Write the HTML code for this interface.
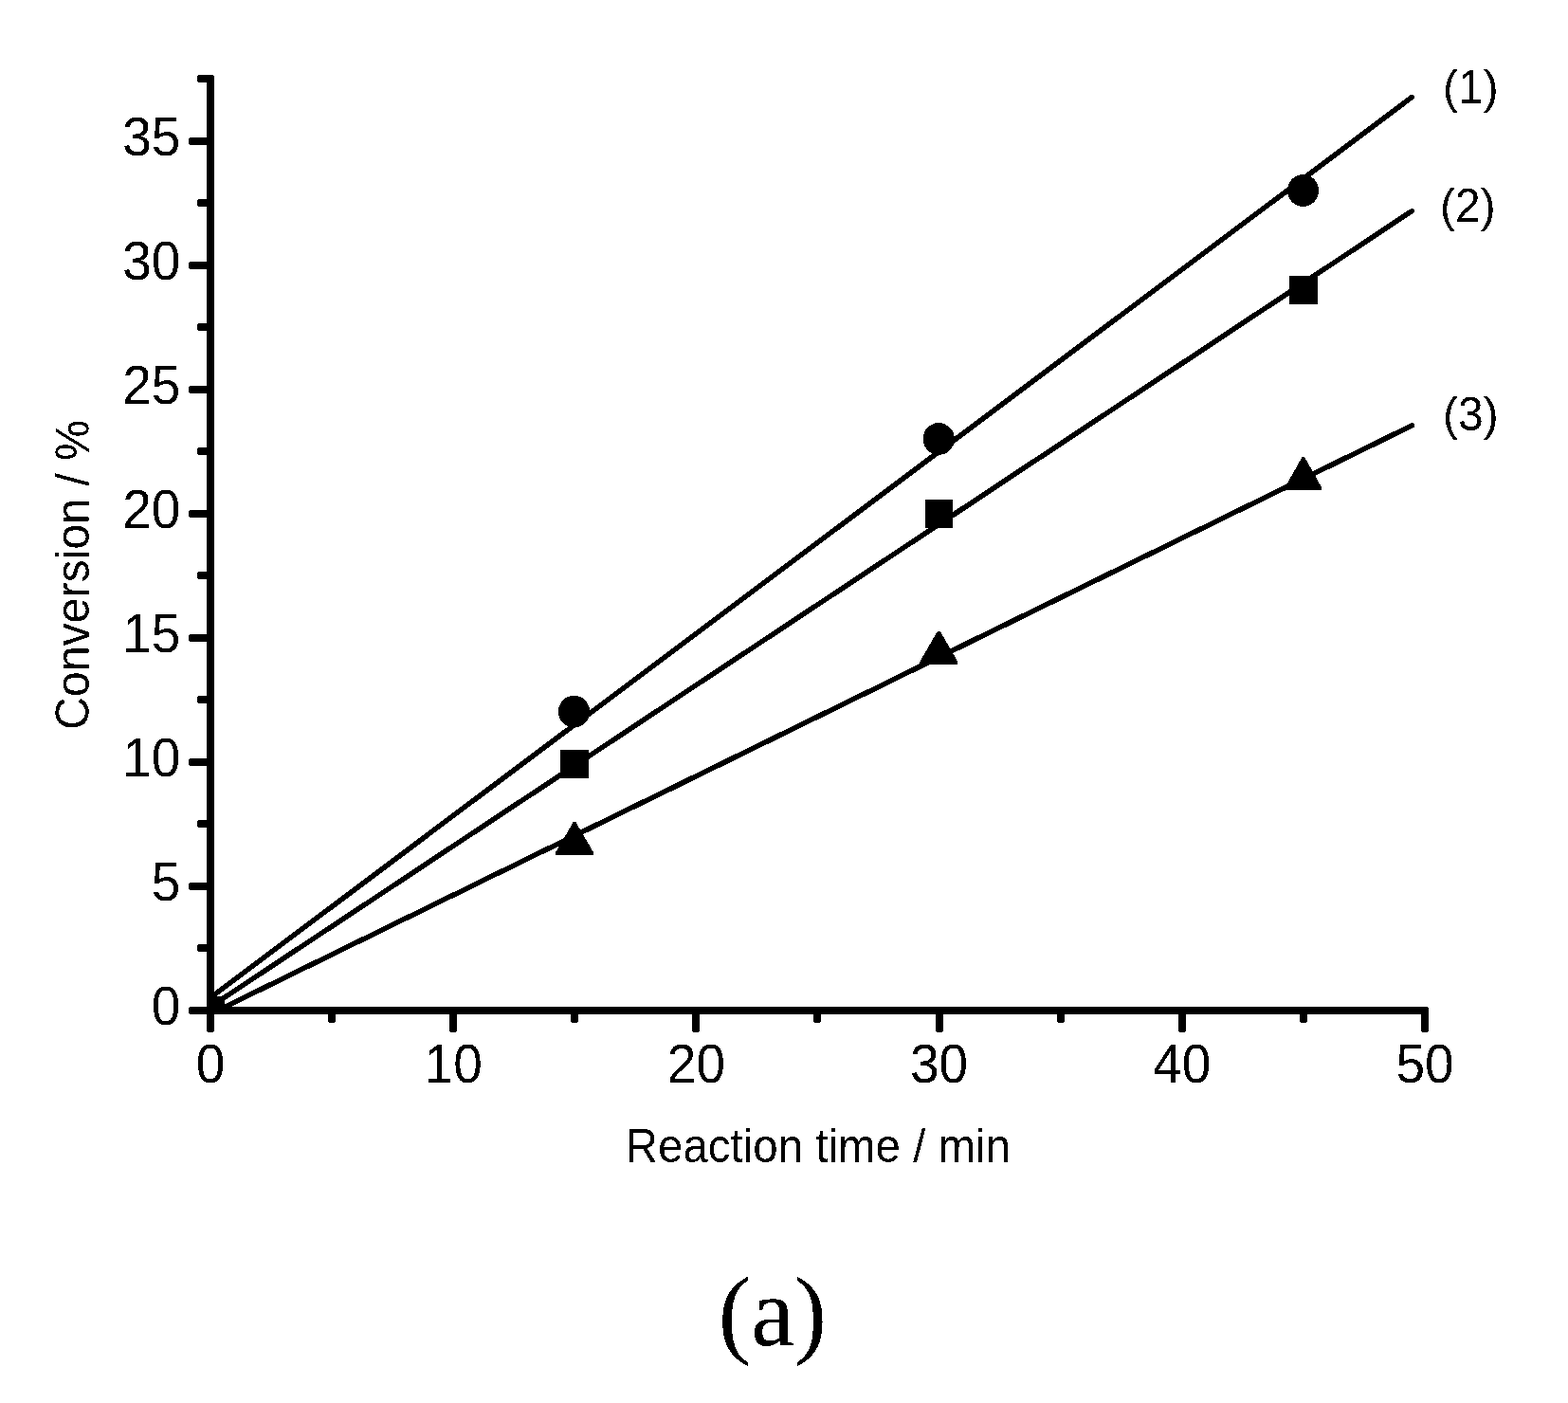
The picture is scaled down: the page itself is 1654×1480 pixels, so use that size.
<!DOCTYPE html>
<html lang="en"><head><meta charset="utf-8"><title>Conversion vs reaction time (a)</title>
<style>
html,body{margin:0;padding:0;background:#fff;}
body{width:1654px;height:1480px;overflow:hidden;}
svg{display:block;}
.sans{font-family:"Liberation Sans",Arial,Helvetica,sans-serif;fill:#000;}
.serif{font-family:"Liberation Serif","Times New Roman",serif;fill:#000;}
</style></head><body>
<svg width="1654" height="1480" viewBox="0 0 1654 1480" role="img" aria-label="Conversion versus reaction time">
<rect x="0" y="0" width="1654" height="1480" fill="#fff"/>
<defs><filter id="bw" filterUnits="userSpaceOnUse" x="0" y="0" width="1654" height="1480" color-interpolation-filters="sRGB"><feComponentTransfer><feFuncA type="discrete" tableValues="0 1"/></feComponentTransfer></filter></defs>
<g filter="url(#bw)">
<clipPath id="plot"><rect x="222" y="0" width="1300" height="1066"/></clipPath>
<g stroke="#000" stroke-width="5.5" stroke-linecap="round" fill="none" clip-path="url(#plot)">
<line x1="222.00" y1="1052.32" x2="1489.42" y2="102.40"/>
<line x1="222.00" y1="1062.07" x2="1489.42" y2="222.58"/>
<line x1="222.00" y1="1069.67" x2="1489.42" y2="448.83"/>
</g>
<g fill="#000">
<rect x="218" y="79" width="8" height="1010" rx="2.5"/>
<rect x="199" y="1062" width="1308" height="8" rx="2.5"/>
<rect x="199" y="1062" width="23" height="8" rx="2.5"/>
<rect x="199" y="931" width="23" height="8" rx="2.5"/>
<rect x="199" y="800" width="23" height="8" rx="2.5"/>
<rect x="199" y="669" width="23" height="8" rx="2.5"/>
<rect x="199" y="538" width="23" height="8" rx="2.5"/>
<rect x="199" y="407" width="23" height="8" rx="2.5"/>
<rect x="199" y="276" width="23" height="8" rx="2.5"/>
<rect x="199" y="145" width="23" height="8" rx="2.5"/>
<rect x="208" y="996" width="14" height="8" rx="2.5"/>
<rect x="208" y="865" width="14" height="8" rx="2.5"/>
<rect x="208" y="734" width="14" height="8" rx="2.5"/>
<rect x="208" y="603" width="14" height="8" rx="2.5"/>
<rect x="208" y="472" width="14" height="8" rx="2.5"/>
<rect x="208" y="341" width="14" height="8" rx="2.5"/>
<rect x="208" y="210" width="14" height="8" rx="2.5"/>
<rect x="208" y="79" width="14" height="8" rx="2.5"/>
<rect x="218" y="1066" width="8" height="23" rx="2.5"/>
<rect x="474" y="1066" width="8" height="23" rx="2.5"/>
<rect x="730" y="1066" width="8" height="23" rx="2.5"/>
<rect x="987" y="1066" width="8" height="23" rx="2.5"/>
<rect x="1243" y="1066" width="8" height="23" rx="2.5"/>
<rect x="1499" y="1066" width="8" height="23" rx="2.5"/>
<rect x="346" y="1066" width="8" height="13" rx="2.5"/>
<rect x="602" y="1066" width="8" height="13" rx="2.5"/>
<rect x="858" y="1066" width="8" height="13" rx="2.5"/>
<rect x="1115" y="1066" width="8" height="13" rx="2.5"/>
<rect x="1371" y="1066" width="8" height="13" rx="2.5"/>
</g>
<g fill="#000">
<rect x="222" y="1051" width="15" height="15"/>
<ellipse cx="605.5" cy="750.7" rx="16.6" ry="16.9"/>
<ellipse cx="990.2" cy="463.0" rx="16.6" ry="16.9"/>
<ellipse cx="1374.5" cy="201.0" rx="16.6" ry="16.9"/>
<rect x="591" y="791" width="30" height="30"/>
<rect x="976" y="527" width="29" height="30"/>
<rect x="1360" y="291" width="30" height="30"/>
<polygon points="604.8,866.9 607.3,866.9 626.0,899.2 626.0,901.9 586.0,901.9 586.0,899.2"/>
<polygon points="989.0,665.8 991.6,665.8 1010.3,698.1 1010.3,700.8 970.3,700.8 970.3,698.1"/>
<polygon points="1373.5,481.9 1376.1,481.9 1394.1,514.2 1394.1,516.9 1355.5,516.9 1355.5,514.2"/>
</g>
<text class="sans" font-size="55" text-anchor="end" transform="translate(190.30 1080.60) scale(1.0000 1.0550)">0</text>
<text class="sans" font-size="55" text-anchor="end" transform="translate(190.30 949.60) scale(1.0000 1.0550)">5</text>
<text class="sans" font-size="55" text-anchor="end" transform="translate(190.30 818.60) scale(1.0000 1.0550)">10</text>
<text class="sans" font-size="55" text-anchor="end" transform="translate(190.30 687.60) scale(1.0000 1.0550)">15</text>
<text class="sans" font-size="55" text-anchor="end" transform="translate(190.30 556.60) scale(1.0000 1.0550)">20</text>
<text class="sans" font-size="55" text-anchor="end" transform="translate(190.30 425.60) scale(1.0000 1.0550)">25</text>
<text class="sans" font-size="55" text-anchor="end" transform="translate(190.30 294.60) scale(1.0000 1.0550)">30</text>
<text class="sans" font-size="55" text-anchor="end" transform="translate(190.30 163.60) scale(1.0000 1.0550)">35</text>
<text class="sans" font-size="55" text-anchor="middle" transform="translate(222.00 1142.40) scale(1.0000 1.0550)">0</text>
<text class="sans" font-size="55" text-anchor="middle" transform="translate(478.20 1142.40) scale(1.0000 1.0550)">10</text>
<text class="sans" font-size="55" text-anchor="middle" transform="translate(734.40 1142.40) scale(1.0000 1.0550)">20</text>
<text class="sans" font-size="55" text-anchor="middle" transform="translate(990.60 1142.40) scale(1.0000 1.0550)">30</text>
<text class="sans" font-size="55" text-anchor="middle" transform="translate(1246.80 1142.40) scale(1.0000 1.0550)">40</text>
<text class="sans" font-size="55" text-anchor="middle" transform="translate(1503.00 1142.40) scale(1.0000 1.0550)">50</text>
<text class="sans" font-size="48" text-anchor="start" transform="translate(1522.00 109.00) scale(1.0000 1.0250)">(1)</text>
<text class="sans" font-size="48" text-anchor="start" transform="translate(1519.00 233.70) scale(1.0000 1.0250)">(2)</text>
<text class="sans" font-size="48" text-anchor="start" transform="translate(1522.00 453.70) scale(1.0000 1.0250)">(3)</text>
<text class="sans" font-size="48" text-anchor="middle" transform="translate(862.90 1225.90) scale(0.9890 1.0300)">Reaction time / min</text>
<text class="sans" font-size="48" text-anchor="middle" transform="translate(94.00 606.50) rotate(-90) scale(1.0040 1.0500)">Conversion / %</text>
<text class="serif" font-size="103" text-anchor="middle" transform="translate(815.00 1418.80)">(a)</text>
</g>
</svg>
</body></html>
